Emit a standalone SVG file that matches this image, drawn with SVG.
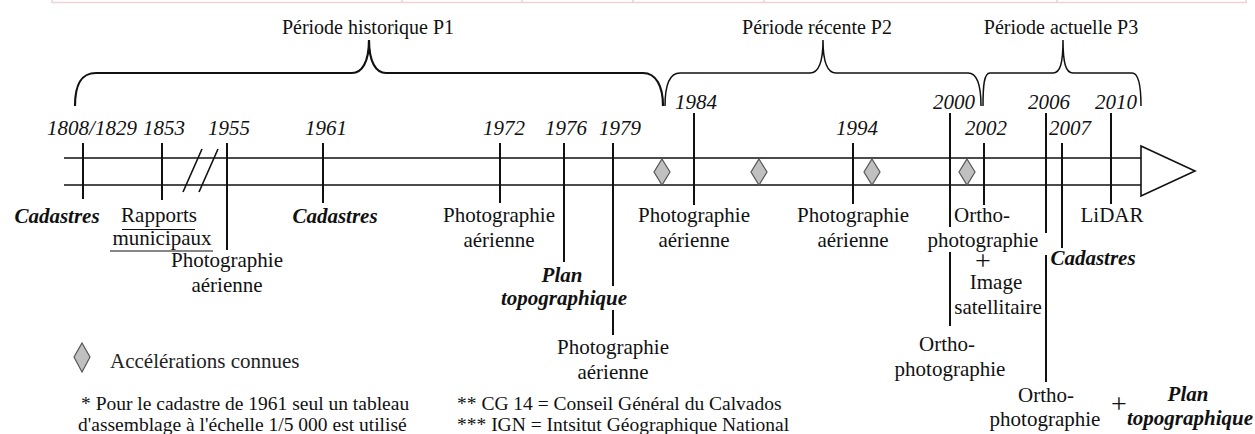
<svg xmlns="http://www.w3.org/2000/svg" width="1255" height="434" viewBox="0 0 1255 434">
<style>
text{font-family:"Liberation Serif","Times New Roman",serif;fill:#111;}
.yr{font-size:21px;font-style:italic;text-anchor:middle;}
.lb{font-size:21px;text-anchor:middle;}
.bi{font-size:21px;font-style:italic;font-weight:bold;text-anchor:middle;}
.per{font-size:20px;text-anchor:middle;}
.fn{font-size:19.5px;}
.tk{stroke:#111;stroke-width:2;fill:none;}
.ax{stroke:#111;stroke-width:1.6;fill:none;}
.br{stroke:#111;fill:none;}
.dm{fill:#c0c0c0;stroke:#555;stroke-width:1.2;}
.ul{stroke:#111;stroke-width:1.2;}
.top{stroke:#ecd2d2;stroke-width:1.5;fill:none;}
</style>
<rect width="1255" height="434" fill="#fff"/>
<g id="top-rule">
<path class="top" d="M52,2.5 H1247 M52,0 V3 M402,0 V3 M522,0 V3 M633,0 V3 M764,0 V3 M1057,0 V3 M1246,0 V3"/>
</g>
<g id="periods">
<g id="p1"><path class="br" stroke-width="2.2" d="M75,106 C75,86 80,73 96,73 L352,73 C362,73 369,62 369,40 C369,62 376,73 386,73 L643,73 C656,73 663,86 663,106"/><text class="per" x="368" y="34">Période historique P1</text></g>
<g id="p2"><path class="br" stroke-width="1.5" d="M665,106 C665,86 669,73 680,73 L810,73 C818,73 823,64 823,40 C823,64 828,73 836,73 L968,73 C977,73 981,86 981,106"/><text class="per" x="817" y="34">Période récente P2</text></g>
<g id="p3"><path class="br" stroke-width="1.5" d="M983,106 C983,86 984,73 990,73 L1053,73 C1060,73 1063,64 1063,40 C1063,64 1066,73 1073,73 L1132,73 C1139,73 1141,86 1141,106"/><text class="per" x="1061" y="34">Période actuelle P3</text></g>
</g>
<g id="connectors">
<path class="ax" d="M64,158 H1141 M64,185 H1141"/>
<polygon points="1141,146 1195,171 1141,196" fill="#fff" stroke="#111" stroke-width="1.6"/>
<path class="ax" d="M183,192 L202,149 M199,192 L218,149"/>
</g>
<g id="e1808"><path class="tk" d="M83,143 V199"/><text class="yr" x="92" y="135">1808/1829</text><text class="bi" x="57" y="223">Cadastres</text></g>
<g id="e1853"><path class="tk" d="M162,143 V200"/><text class="yr" x="164" y="135">1853</text>
<text class="lb" x="159" y="222">Rapports</text><path class="ul" d="M122,229.5 H195"/>
<text class="lb" x="162" y="245">municipaux</text><path class="ul" d="M110,251 H213"/></g>
<g id="e1955"><path class="tk" d="M227,143 V250"/><text class="yr" x="229" y="135">1955</text><text class="lb" x="227" y="267">Photographie</text><text class="lb" x="227" y="292">aérienne</text></g>
<g id="e1961"><path class="tk" d="M323,143 V203"/><text class="yr" x="326" y="135">1961</text><text class="bi" x="335" y="223">Cadastres</text></g>
<g id="e1972"><path class="tk" d="M500,143 V203"/><text class="yr" x="504" y="135">1972</text><text class="lb" x="499" y="222">Photographie</text><text class="lb" x="499" y="247">aérienne</text></g>
<g id="e1976"><path class="tk" d="M564,143 V262"/><text class="yr" x="566" y="135">1976</text><text class="bi" x="562" y="282">Plan</text><text class="bi" x="564" y="305">topographique</text></g>
<g id="e1979"><path class="tk" d="M613,143 V286 M613,310 V335"/><text class="yr" x="620" y="135">1979</text><text class="lb" x="613" y="354">Photographie</text><text class="lb" x="613" y="379">aérienne</text></g>
<g id="e1984"><path class="tk" d="M694,113 V205"/><text class="yr" x="696" y="109">1984</text><text class="lb" x="694" y="222">Photographie</text><text class="lb" x="694" y="247">aérienne</text></g>
<g id="e1994"><path class="tk" d="M853,143 V204"/><text class="yr" x="857" y="135">1994</text><text class="lb" x="853" y="222">Photographie</text><text class="lb" x="853" y="247">aérienne</text></g>
<g id="e2000"><path class="tk" d="M950,113 V227 M950,252 V326"/><text class="yr" x="954" y="109">2000</text><text class="lb" x="947" y="351">Ortho-</text><text class="lb" x="950" y="376">photographie</text></g>
<g id="e2002"><path class="tk" d="M984,143 V205"/><text class="yr" x="986" y="135">2002</text><text class="lb" x="982" y="222">Ortho-</text><text class="lb" x="983" y="247">photographie</text>
<text class="lb" x="983" y="270" style="font-size:28px">+</text><text class="lb" x="996" y="289">Image</text><text class="lb" x="998" y="314">satellitaire</text></g>
<g id="e2006"><path class="tk" d="M1046,113 V233 M1046,255 V382"/><text class="yr" x="1049" y="109">2006</text><text class="lb" x="1046" y="402">Ortho-</text><text class="lb" x="1045" y="426">photographie</text>
<text class="lb" x="1119" y="413" style="font-size:28px">+</text><text class="bi" x="1188" y="401">Plan</text><text class="bi" x="1190" y="425">topographique</text></g>
<g id="e2007"><path class="tk" d="M1062,143 V248"/><text class="yr" x="1070" y="135">2007</text><text class="bi" x="1093" y="265">Cadastres</text></g>
<g id="e2010"><path class="tk" d="M1111,113 V204"/><text class="yr" x="1116" y="109">2010</text><text class="lb" x="1112" y="222">LiDAR</text></g>
<g id="accelerations">
<polygon class="dm" points="662,159 670,172 662,185 654,172"/>
<polygon class="dm" points="759,159 767,172 759,185 751,172"/>
<polygon class="dm" points="872,159 880,172 872,185 864,172"/>
<polygon class="dm" points="967,159 975,172 967,185 959,172"/>
</g>
<g id="legend">
<polygon class="dm" points="82,343 90,357 82,372 74,357"/>
<text x="110" y="368" style="font-size:21px;fill:#222">Accélérations connues</text>
<text class="fn" x="81" y="410">* Pour le cadastre de 1961 seul un tableau</text>
<text class="fn" x="78" y="431">d'assemblage à l'échelle 1/5 000 est utilisé</text>
<text class="fn" x="457" y="410">** CG 14 = Conseil Général du Calvados</text>
<text class="fn" x="457" y="431">*** IGN = Intsitut Géographique National</text>
</g>
</svg>
